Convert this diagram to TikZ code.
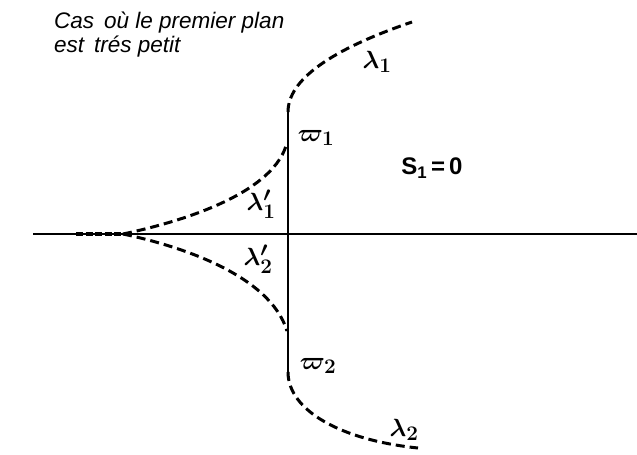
\documentclass[tikz,border=0pt]{standalone}
\usepackage{fontspec}
\setmainfont{Liberation Sans}
\begin{document}
\begin{tikzpicture}[x=1pt,y=-1pt,
  solidline/.style={line width=2.2pt},
  dashline/.style={line width=3pt,dash pattern=on 9pt off 5pt},
  greek/.style={inner sep=0pt,font=\fontsize{28}{30}\selectfont\boldmath}]
\useasboundingbox (0,0) rectangle (637,455);
% key points
\coordinate (axL) at (33,234);
\coordinate (axR) at (637,234);
\coordinate (vT) at (288,112);
\coordinate (vB) at (288,372);
\coordinate (cusp) at (123,234);
\coordinate (dotsL) at (76,234);
\coordinate (l1end) at (412,22);
\coordinate (lp1end) at (286,146);
\coordinate (lp2end) at (287,331);
\coordinate (l2end) at (418,448);
% axes
\draw[line width=1.8pt] (axL) -- (axR);
\draw[solidline] (vT) -- (vB);
% dashed curves
\draw[line width=4pt,dash pattern=on 7pt off 2.5pt] (dotsL) -- (cusp);
\draw[dashline] (vT) .. controls (288,80) and (330,50) .. (l1end);
\draw[dashline] (cusp) .. controls (180,222) and (270,195) .. (lp1end);
\draw[dashline] (cusp) .. controls (180,246) and (270,275) .. (lp2end);
\draw[dashline] (vB) .. controls (288,410) and (340,440) .. (l2end);
% labels
\node[anchor=north west,inner sep=0pt,align=left,font=\fontsize{22.5}{24}\selectfont\itshape] (title) at (54,12) {Cas\, où le premier plan\\est\, trés petit};
\node[greek] (L1) at (377,62) {$\lambda_{1}$};
\node[greek] (W1) at (316,138) {$\varpi_{1}$};
\node[inner sep=0pt,font=\fontsize{24}{26}\selectfont\bfseries] (S1) at (432,168) {S\textsubscript{1}\,=\,0};
\node[greek] (Lp1) at (261,204) {$\lambda'_{1}$};
\node[greek] (Lp2) at (258,259) {$\lambda'_{2}$};
\node[greek] (W2) at (318,366) {$\varpi_{2}$};
\node[greek] (L2) at (404,430) {$\lambda_{2}$};
\end{tikzpicture}
\end{document}
